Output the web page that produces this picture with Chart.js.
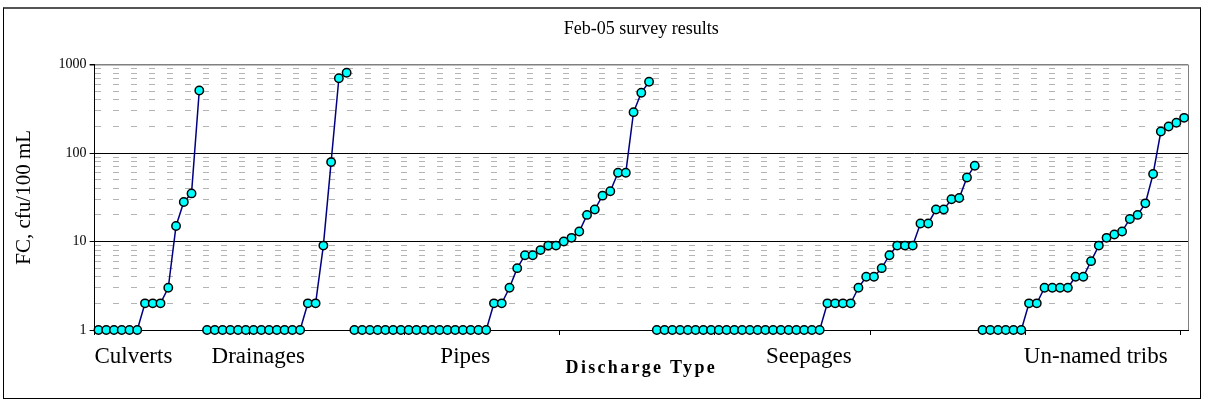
<!DOCTYPE html>
<html><head><meta charset="utf-8">
<script src="https://cdn.jsdelivr.net/npm/chart.js@4/dist/chart.umd.min.js"></script>
<style>
html,body{margin:0;padding:0;background:#fff;}
#frame{position:absolute;left:3px;top:7px;width:1196px;height:389px;border:1px solid #000;border-top:2px solid #555;}
#c{position:absolute;left:0;top:0;}
</style></head><body>
<div id="frame"></div>
<canvas id="c" width="1205" height="403"></canvas>
<script>
// ---- data ----
const groupNames = ['Culverts', 'Drainages', 'Pipes', 'Seepages', 'Un-named tribs'];
const culverts  = [1, 1, 1, 1, 1, 1, 2, 2, 2, 3, 15, 28, 35, 510];
const drainages = [1, 1, 1, 1, 1, 1, 1, 1, 1, 1, 1, 1, 1, 2, 2, 9, 79, 700, 810];
const pipes     = [1, 1, 1, 1, 1, 1, 1, 1, 1, 1, 1, 1, 1, 1, 1, 1, 1, 1,
                   2, 2, 3, 5, 7, 7, 8, 9, 9, 10, 11, 13, 20, 23, 33, 37, 60, 60, 290, 480, 640];
const seepages  = [1, 1, 1, 1, 1, 1, 1, 1, 1, 1, 1, 1, 1, 1, 1, 1, 1, 1, 1, 1, 1, 1,
                   2, 2, 2, 2, 3, 4, 4, 5, 7, 9, 9, 9, 16, 16, 23, 23, 30, 31, 53, 72];
const tribs     = [1, 1, 1, 1, 1, 1, 2, 2, 3, 3, 3, 3, 4, 4, 6, 9, 11, 12, 13, 18, 20, 27, 58, 175, 200, 220, 250];
const yTickLabels = [1, 10, 100, 1000];

// ---- axis layout (category index units) ----
const xTickMarks = [-0.5, 19.5, 39.5, 59.5, 79.5, 99.5, 119.5, 139.5];
const groupLabelAt = [4.5, 20.6, 47.3, 91.6, 128.6];
const xMax = 140.5;

const groups = [culverts, drainages, pipes, seepages, tribs];
let start = 0;
const datasets = groups.map((vals, g) => {
  const ds = {
    label: groupNames[g],
    data: vals.map((v, i) => ({x: start + i, y: v})),
    borderColor: '#000080',
    borderWidth: 1.5,
    pointBackgroundColor: '#00FFFF',
    pointBorderColor: '#000000',
    pointBorderWidth: 1.5,
    pointRadius: 4.2,
    pointHoverRadius: 4.2,
    tension: 0,
    clip: false
  };
  start += vals.length;
  return ds;
});

const minorY = [];
for (let d = 1; d <= 100; d *= 10) for (let m = 2; m <= 9; m++) minorY.push(m * d);

Chart.defaults.font.family = "'Liberation Serif', 'Times New Roman', serif";
Chart.defaults.color = '#000';

// widen the spacing of the x-axis title letters
const spacedTitle = {
  id: 'spacedTitle',
  beforeDraw(chart) {
    const s = chart.scales.x;
    if (s && !s._spaced) {
      const orig = s.drawTitle.bind(s);
      s.drawTitle = function () {
        const ctx = this.ctx;
        const prev = ctx.letterSpacing;
        ctx.letterSpacing = '2.3px';
        orig();
        ctx.letterSpacing = prev || '0px';
      };
      s._spaced = true;
    }
  }
};

new Chart(document.getElementById('c'), {
  type: 'line',
  data: { datasets },
  plugins: [spacedTitle],
  options: {
    responsive: false,
    animation: false,
    events: [],
    layout: { padding: { left: 8, right: 17, top: 8, bottom: 34 } },
    plugins: {
      legend: { display: false },
      tooltip: { enabled: false },
      title: {
        display: true,
        fullSize: false,
        text: 'Feb-05 survey results',
        font: { size: 18, weight: 'normal' },
        color: '#000',
        padding: { top: 10, bottom: 25 }
      }
    },
    scales: {
      x: {
        type: 'linear',
        min: -0.5,
        max: xMax,
        afterBuildTicks: (scale) => {
          const vals = [...xTickMarks, ...groupLabelAt, xMax].sort((a, b) => a - b);
          scale.ticks = vals.map(v => ({ value: v }));
        },
        afterFit: (scale) => { scale.height = 39; },
        ticks: {
          autoSkip: false,
          maxRotation: 0,
          minRotation: 0,
          padding: 10.5,
          font: { size: 23, lineHeight: 1 },
          callback: (value) => {
            const k = groupLabelAt.indexOf(value);
            return k >= 0 ? groupNames[k] : '';
          }
        },
        grid: {
          drawOnChartArea: true,
          color: (ctx) => (ctx.tick && ctx.tick.value === xMax) ? '#808080' : 'rgba(0,0,0,0)',
          tickColor: (ctx) => (ctx.tick && xTickMarks.includes(ctx.tick.value)) ? '#000' : 'rgba(0,0,0,0)',
          tickLength: 5,
          lineWidth: 1
        },
        border: { color: '#000', width: 1 },
        title: {
          display: true,
          text: 'Discharge Type',
          font: { size: 18, weight: 'bold', lineHeight: 0.1 },
          color: '#000',
          padding: { top: 0, bottom: 0 }
        }
      },
      y2: {
        type: 'logarithmic',
        position: 'left',
        min: 1,
        max: 1000,
        afterBuildTicks: (scale) => { scale.ticks = minorY.map(v => ({ value: v })); },
        ticks: { display: false },
        grid: { color: '#b4b4b4', drawTicks: false, lineWidth: 1 },
        border: { display: false, dash: [6, 12] }
      },
      y: {
        type: 'logarithmic',
        position: 'left',
        min: 1,
        max: 1000,
        afterBuildTicks: (scale) => { scale.ticks = yTickLabels.map(v => ({ value: v, major: true })); },
        ticks: {
          autoSkip: false,
          padding: 3,
          font: { size: 14 },
          callback: (value) => String(value)
        },
        grid: {
          color: (ctx) => (ctx.tick && ctx.tick.value === 1000) ? '#808080' : '#000',
          lineWidth: (ctx) => (ctx.tick && ctx.tick.value === 1000) ? 1.5 : 1,
          tickColor: '#000',
          tickLength: 5
        },
        border: { color: '#000', width: 1 },
        title: {
          display: true,
          text: 'FC, cfu/100 mL',
          font: { size: 21, weight: 'normal' },
          color: '#000',
          padding: { top: 3.4, bottom: 19 }
        }
      }
    }
  }
});
</script>
</body></html>
